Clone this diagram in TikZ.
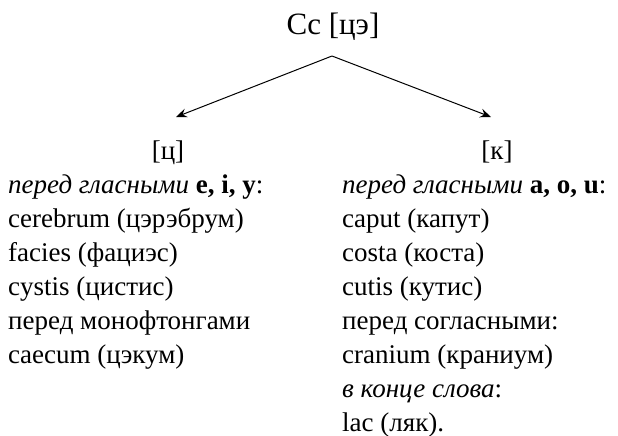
\documentclass[tikz,border=0pt]{standalone}
\usepackage{fontspec}
\setmainfont{Liberation Serif}
\usetikzlibrary{arrows.meta}
\begin{document}
\begin{tikzpicture}[x=1pt,y=-1pt,
  txt/.style={anchor=base west,inner sep=0pt,font=\fontsize{27}{32}\selectfont},
  head/.style={anchor=base,inner sep=0pt,font=\fontsize{27}{32}\selectfont},
  ttl/.style={anchor=base,inner sep=0pt,font=\fontsize{31}{36}\selectfont},
  arr/.style={line width=1pt,-{Stealth[length=11pt,width=9pt,inset=4pt]}}]
\useasboundingbox (0,0) rectangle (618,436);
\node[ttl] (title) at (333,35) {Cc [цэ]};
\coordinate (apex) at (332,56);
\coordinate (lt) at (176,117);
\coordinate (rt) at (491,117);
\draw[arr] (apex) -- (lt);
\draw[arr] (apex) -- (rt);
\node[head] (ts) at (168,159) {[ц]};
\node[head] (k) at (497,159) {[к]};
\node[txt] (l1) at (8,193) {\textit{перед гласными} \textbf{e, i, y}:};
\node[txt] (l2) at (8,227) {cerebrum (цэрэбрум)};
\node[txt] (l3) at (8,261) {facies (фациэс)};
\node[txt] (l4) at (8,295) {cystis (цистис)};
\node[txt] (l5) at (8,329) {перед монофтонгами};
\node[txt] (l6) at (8,363) {caecum (цэкум)};
\node[txt] (r1) at (342,193) {\textit{перед гласными} \textbf{a, o, u}:};
\node[txt] (r2) at (342,227) {caput (капут)};
\node[txt] (r3) at (342,261) {costa (коста)};
\node[txt] (r4) at (342,295) {cutis (кутис)};
\node[txt] (r5) at (342,329) {перед согласными:};
\node[txt] (r6) at (342,363) {cranium (краниум)};
\node[txt] (r7) at (342,397) {\textit{в конце слова}:};
\node[txt] (r8) at (342,431) {lac (ляк).};
\end{tikzpicture}
\end{document}
